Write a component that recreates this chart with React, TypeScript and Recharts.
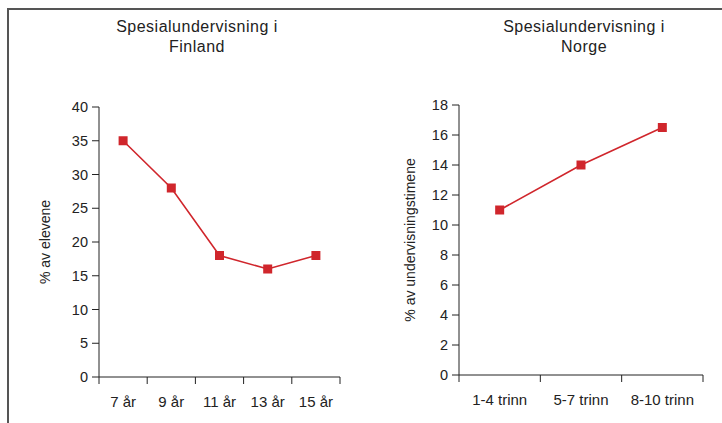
import { CartesianGrid, Line, LineChart, XAxis, YAxis } from 'recharts'

const finlandAges = ['7 år', '9 år', '11 år', '13 år', '15 år']
const finlandValues = [35, 28, 18, 16, 18]
const finlandTicks = [0, 5, 10, 15, 20, 25, 30, 35, 40]

const norgeLevels = ['1-4 trinn', '5-7 trinn', '8-10 trinn']
const norgeValues = [11, 14, 16.5]
const norgeTicks = [0, 2, 4, 6, 8, 10, 12, 14, 16, 18]

const FONT = 'Arial, "Liberation Sans", Helvetica, sans-serif'
const INK = '#222'
const RED = '#d0262c'

const finlandData = finlandAges.map((label, i) => ({ label, value: finlandValues[i] }))
const norgeData = norgeLevels.map((label, i) => ({ label, value: norgeValues[i] }))

function SquareDot(props: any) {
  const { cx, cy } = props
  if (cx == null || cy == null) return null
  return <rect x={cx - 4.5} y={cy - 4.5} width={9} height={9} fill={RED} />
}

// category labels centred in the band, tick marks on the band edges
function makeTick(band: number, count: number) {
  return function BandTick(props: any) {
    const { x, y, payload, index } = props
    return (
      <g>
        <line x1={x - band / 2} x2={x - band / 2} y1={y} y2={y + 7} stroke={INK} />
        {index === count - 1 && (
          <line x1={x + band / 2} x2={x + band / 2} y1={y} y2={y + 7} stroke={INK} />
        )}
        <text x={x} y={y + 30} textAnchor="middle" fontSize={15} fill={INK} fontFamily={FONT}>
          {payload.value}
        </text>
      </g>
    )
  }
}

function yLabel(text: string, cx: number) {
  return (props: any) => {
    const vb = props.viewBox
    const cy = vb.y + vb.height / 2
    return (
      <text
        x={cx}
        y={cy}
        transform={`rotate(-90, ${cx}, ${cy})`}
        textAnchor="middle"
        dominantBaseline="central"
        fontSize={14}
        fill={INK}
        fontFamily={FONT}
      >
        {text}
      </text>
    )
  }
}

function Panel({
  data,
  ticks,
  max,
  yText,
  labelX,
  left,
  width,
  axisWidth,
  top,
  bottom,
  right,
}: {
  data: { label: string; value: number }[]
  ticks: number[]
  max: number
  yText: string
  labelX: number
  left: number
  width: number
  axisWidth: number
  top: number
  bottom: number
  right: number
}) {
  const band = (width - axisWidth - right) / data.length
  return (
    <div style={{ position: 'absolute', left, top: 0 }}>
      <LineChart width={width} height={423} data={data} margin={{ top, bottom: 0, left: 0, right }}>
        <CartesianGrid stroke="none" />
        <XAxis
          dataKey="label"
          scale="band"
          interval={0}
          axisLine={{ stroke: INK }}
          tickLine={false}
          tickSize={0}
          tickMargin={0}
          height={bottom}
          tick={makeTick(band, data.length)}
        />
        <YAxis
          domain={[0, max]}
          ticks={ticks}
          interval={0}
          width={axisWidth}
          axisLine={{ stroke: INK }}
          tickLine={{ stroke: INK }}
          tickSize={7}
          tickMargin={4}
          tick={{ fontSize: 14.5, fill: INK, fontFamily: FONT }}
          label={{ content: yLabel(yText, labelX) }}
        />
        <Line
          dataKey="value"
          stroke={RED}
          strokeWidth={1.6}
          dot={<SquareDot />}
          activeDot={false}
          isAnimationActive={false}
        />
      </LineChart>
    </div>
  )
}

function Title({ lines, cx }: { lines: string[]; cx: number }) {
  return (
    <div
      style={{
        position: 'absolute',
        left: cx - 150,
        top: 17,
        width: 300,
        textAlign: 'center',
        fontFamily: FONT,
        fontSize: 16,
        letterSpacing: 0.5,
        lineHeight: '20px',
        color: INK,
      }}
    >
      {lines.map((l) => (
        <div key={l}>{l}</div>
      ))}
    </div>
  )
}

export default function App() {
  return (
    <div
      style={{
        position: 'absolute',
        left: 0,
        top: 0,
        width: 722,
        height: 423,
        background: '#fff',
        overflow: 'hidden',
      }}
    >
      <div
        style={{
          position: 'absolute',
          left: 7,
          top: 8,
          width: 730,
          height: 430,
          borderLeft: '2px solid #555',
          borderTop: '2px solid #555',
        }}
      />
      <Title lines={['Spesialundervisning i', 'Finland']} cx={197} />
      <Title lines={['Spesialundervisning i', 'Norge']} cx={584} />
      <Panel
        data={finlandData}
        ticks={finlandTicks}
        max={40}
        yText="% av elevene"
        labelX={45}
        left={0}
        width={361}
        axisWidth={99}
        top={107}
        bottom={46}
        right={21}
      />
      <Panel
        data={norgeData}
        ticks={norgeTicks}
        max={18}
        yText="% av undervisningstimene"
        labelX={49}
        left={361}
        width={361}
        axisWidth={98}
        top={105}
        bottom={48}
        right={19}
      />
    </div>
  )
}
